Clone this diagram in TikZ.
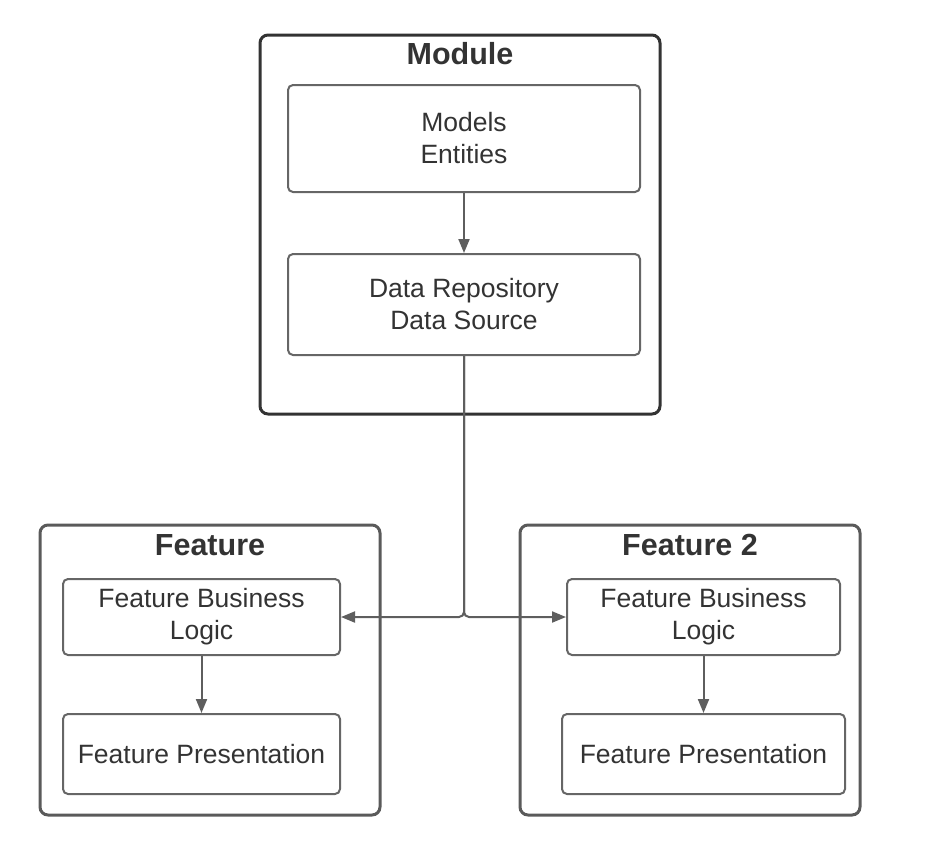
\documentclass[tikz,border=0pt]{standalone}
\usepackage{fontspec}
\setmainfont{Liberation Sans}
\usetikzlibrary{arrows.meta}
\definecolor{txt}{HTML}{333333}
\definecolor{modline}{HTML}{333333}
\definecolor{featline}{HTML}{5A5A5A}
\definecolor{boxline}{HTML}{666666}
\definecolor{conline}{HTML}{5E5E5E}
\tikzset{
  outerbox/.style={draw, line width=3pt, rounded corners=8pt, minimum width=#1, inner sep=0pt},
  modbox/.style={outerbox=400pt, draw=modline, minimum height=379pt},
  featbox/.style={outerbox=340pt, draw=featline, minimum height=290pt},
  innerbox/.style={draw=boxline, line width=2pt, rounded corners=5pt, inner sep=0pt,
    text=txt, align=center, font=\fontsize{26.5}{32}\selectfont},
  titletext/.style={text=txt, font=\fontsize{30.5}{36}\selectfont\bfseries, inner sep=0pt},
  conn/.style={draw=conline, line width=2pt, -{Triangle[length=14pt,width=11pt]}},
}
\begin{document}
\begin{tikzpicture}[x=1pt,y=-1pt]
\useasboundingbox (0,0) rectangle (933,847);
% Module
\node[modbox] (mod) at (460,224.5) {};
\node[titletext] (modt) at (460,54) {Module};
\node[innerbox, minimum width=352pt, minimum height=107pt] (me) at (464,138.5) {Models\\Entities};
\node[innerbox, minimum width=352pt, minimum height=101pt] (dr) at (464,304.5) {Data Repository\\Data Source};
\draw[conn] (me.south) -- (dr.north);
% Feature
\node[featbox] (f1) at (210,670) {};
\node[titletext] (f1t) at (210,545) {Feature};
\node[innerbox, minimum width=277pt, minimum height=76pt] (f1bl) at (201.5,617) {Feature Business\\Logic};
\node[innerbox, minimum width=277pt, minimum height=80pt] (f1p) at (201.5,754) {Feature Presentation};
\draw[conn] (f1bl.south) -- (f1p.north);
% Feature 2
\node[featbox] (f2) at (690,670) {};
\node[titletext] (f2t) at (690,545) {Feature 2};
\node[innerbox, minimum width=273pt, minimum height=76pt] (f2bl) at (703.5,617) {Feature Business\\Logic};
\node[innerbox, minimum width=283pt, minimum height=80pt] (f2p) at (703.5,754) {Feature Presentation};
\draw[conn] (f2bl.south) -- (f2p.north);
% Connectors from data repository
\draw[conn, rounded corners=5pt] (dr.south) |- (f1bl.east);
\draw[conn, rounded corners=5pt] (dr.south) |- (f2bl.west);
\end{tikzpicture}
\end{document}
